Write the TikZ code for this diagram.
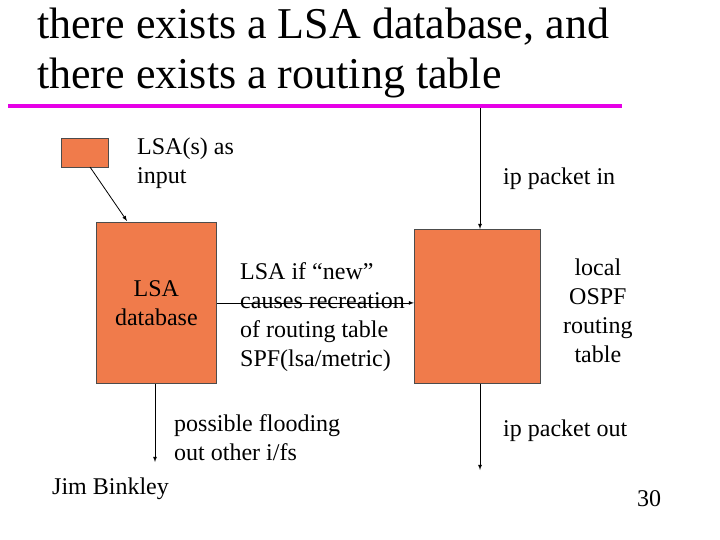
\documentclass[tikz,border=0pt]{standalone}
\usepackage{fontspec}
\setmainfont{Liberation Serif}
\definecolor{mag}{RGB}{230,0,230}
\definecolor{boxfill}{RGB}{240,123,75}
\begin{document}
\begin{tikzpicture}[x=1pt,y=-1pt,
  box/.style={draw=black!70,fill=boxfill,line width=0.8pt},
  txt/.style={anchor=west,align=left,font=\fontsize{24}{29}\selectfont,inner sep=0pt},
  arr/.style={-latex,line width=0.8pt}]
\useasboundingbox (0,0) rectangle (720,540);
\node[anchor=west,align=left,inner sep=0pt,font=\fontsize{44}{50}\selectfont] (title) at (37,53) {there exists a LSA database, and\\there exists a routing table};
\coordinate (la) at (8,106); \coordinate (lb) at (622,106);
\draw[mag,line width=4pt] (la) -- (lb);
\node[box,minimum width=47,minimum height=29,anchor=north west] (small) at (61,138) {};
\node[txt] (inp) at (137,163) {LSA(s) as\\input};
\node[box,minimum width=120,minimum height=161,anchor=north west,align=center,font=\fontsize{24}{29}\selectfont] (db) at (96,222) {LSA\\database};
\node[box,minimum width=126,minimum height=154,anchor=north west] (rt) at (414,229) {};
\node[txt] (mid) at (240,317) {LSA if “new”\\causes recreation\\of routing table\\SPF(lsa/metric)};
\node[txt,align=center] (loc) at (563,311) {local\\OSPF\\routing\\table};
\node[txt] (pin) at (503,179) {ip packet in};
\node[txt] (flood) at (174,438) {possible flooding\\out other i/fs};
\node[txt] (pout) at (503,431) {ip packet out};
\node[txt] (jb) at (52,489) {Jim Binkley};
\node[txt] (num) at (637,499) {30};
\coordinate (s1) at (90,167); \coordinate (e1) at (127,221);
\draw[arr] (s1) -- (e1);
\draw[arr] (db.east) -- (rt.west |- db.east);
\coordinate (ti) at (480,108);
\draw[arr] (ti) -- (rt.north -| ti);
\coordinate (fo) at (155,462);
\draw[arr] (db.south -| fo) -- (fo);
\coordinate (po) at (480,470);
\draw[arr] (rt.south -| po) -- (po);
\end{tikzpicture}
\end{document}
